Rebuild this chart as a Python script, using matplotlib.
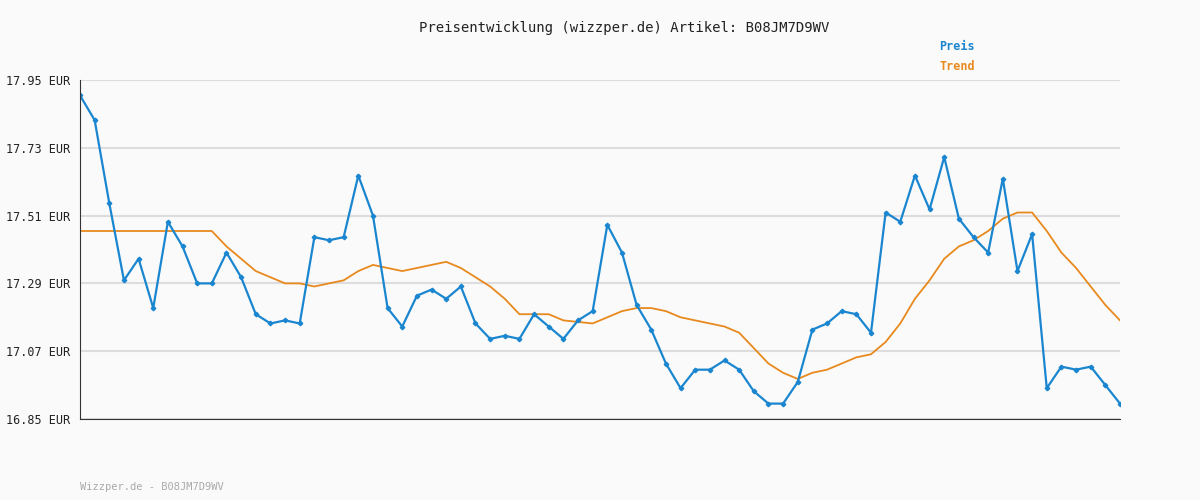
import matplotlib
matplotlib.use("Agg")
import matplotlib.pyplot as plt
import numpy as np

preis = [17.90,17.82,17.55,17.30,17.37,17.21,17.49,17.41,17.29,17.29,17.39,17.31,17.19,17.16,17.17,17.16,
         17.44,17.43,17.44,17.64,17.51,17.21,17.15,17.25,17.27,17.24,17.28,17.16,17.11,17.12,17.11,17.19,
         17.15,17.11,17.17,17.20,17.48,17.39,17.22,17.14,17.03,16.95,17.01,17.01,17.04,17.01,16.94,16.90,
         16.90,16.97,17.14,17.16,17.20,17.19,17.13,17.52,17.49,17.64,17.53,17.70,17.50,17.44,17.39,17.63,
         17.33,17.45,16.95,17.02,17.01,17.02,16.96,16.90]
trend = [17.46]*10 + [17.41,17.37,17.33,17.31,17.29,17.29,17.28,17.29,17.30,17.33,17.35,17.34,17.33,17.34,
         17.35,17.36,17.34,17.31,17.28,17.24,17.19,17.19,17.19,17.17,17.165,17.16,17.18,17.20,17.21,17.21,
         17.20,17.18,17.17,17.16,17.15,17.13,17.08,17.03,17.00,16.98,17.00,17.01,17.03,17.05,17.06,17.10,
         17.16,17.24,17.30,17.37,17.41,17.43,17.46,17.50,17.52,17.52,17.46,17.39,17.34,17.28,17.22,17.17]
yticks = [16.85,17.07,17.29,17.51,17.73,17.95]
x = np.arange(len(preis))

fig = plt.figure(figsize=(12,5), dpi=100, facecolor="#fafafa")
ax = fig.add_axes([80/1200, 1-419/500, 1040/1200, 339/500], facecolor="#fafafa")
mono = "DejaVu Sans Mono"
for t in yticks:
    ax.axhline(t, color="#dddddd", lw=1.5, zorder=0)
ax.plot(x, trend, color="#e8891e", lw=1.3)
ax.plot(x, preis, color="#1a86cf", lw=1.6, marker="D", ms=2.3)
ax.set_xlim(0, len(preis)-1)
ax.set_ylim(16.85, 17.95)
ax.set_yticks(yticks)
ax.set_yticklabels([f"{t:.2f} EUR" for t in yticks], family=mono, fontsize=8.5, color="#222222")
ax.set_xticks([])
ax.tick_params(axis="y", length=0, pad=7)
for s in ["top","right"]:
    ax.spines[s].set_visible(False)
ax.spines["left"].set_color("#333333")
ax.spines["bottom"].set_color("#333333")
fig.text(0.52, 0.944, "Preisentwicklung (wizzper.de) Artikel: B08JM7D9WV", ha="center", va="center",
         family=mono, fontsize=10, color="#222222")
fig.text(0.783, 0.907, "Preis", family=mono, fontsize=8.5, weight="bold", color="#1a86cf", va="center")
fig.text(0.783, 0.866, "Trend", family=mono, fontsize=8.5, weight="bold", color="#e8891e", va="center")
fig.text(0.0667, 0.026, "Wizzper.de - B08JM7D9WV", family=mono, fontsize=7.5, color="#aaaaaa", va="center")
fig.savefig("out.png", dpi=100, facecolor=fig.get_facecolor())
